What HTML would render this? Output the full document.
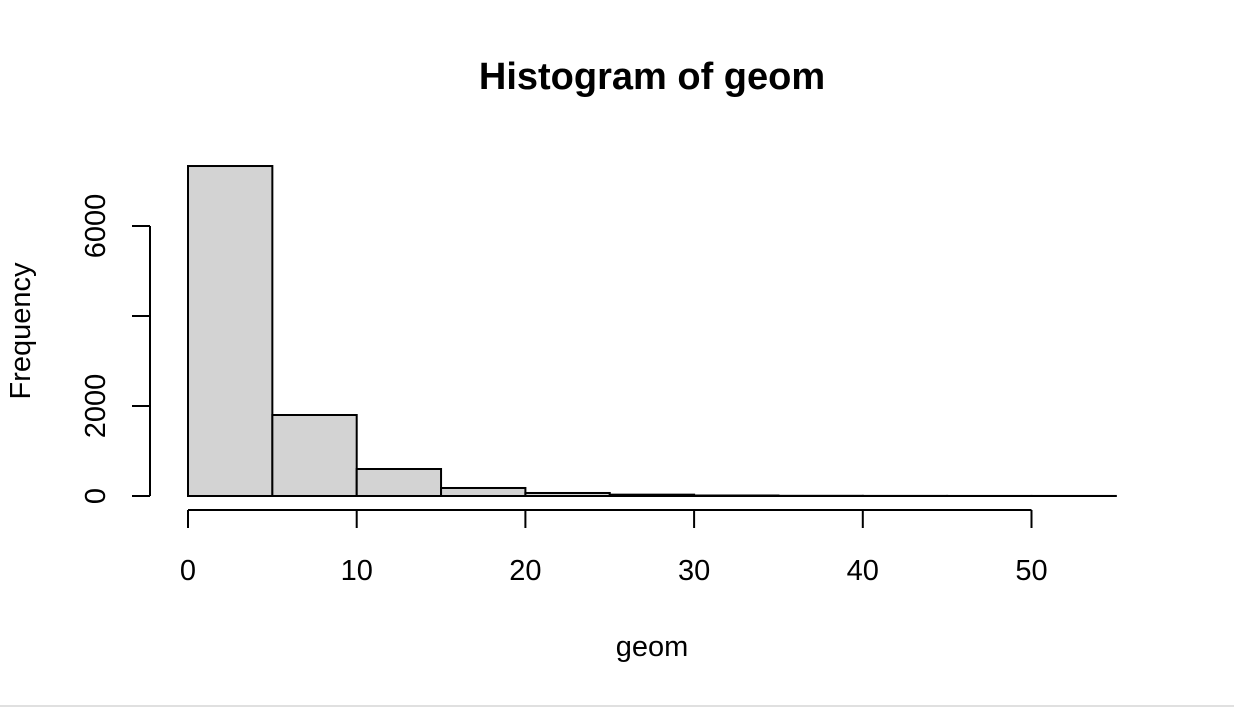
<!DOCTYPE html>
<html><head><meta charset="utf-8"><style>
body{margin:0;background:#fff;}
svg text{font-family:"Liberation Sans",Arial,sans-serif;}
</style></head><body>
<svg width="1234" height="710">
<rect x="0" y="0" width="1234" height="710" fill="#fff"/>
<line x1="0" y1="706" x2="1234" y2="706" stroke="#e0e0e0" stroke-width="2"/>
<text x="652" y="89" text-anchor="middle" font-size="38" font-weight="bold">Histogram of geom</text>
<text x="652" y="656" text-anchor="middle" font-size="29">geom</text>
<text transform="translate(30,331) rotate(-90)" text-anchor="middle" font-size="29">Frequency</text>
<g id="bars"></g><g id="xaxis"></g><g id="yaxis"></g>
</svg>
<script>
const binStarts=[0,5,10,15,20,25,30,35,40,45,50];
const binWidth=5;
const counts=[7333,1800,600,178,67,30,11,4,2,1,1];
const xTicks=[0,10,20,30,40,50];
const yTicks=[0,2000,4000,6000];
const yTickLabels=["0","2000","","6000"];
const NS="http://www.w3.org/2000/svg";
const xs=v=>188+v*16.87;
const ys=v=>496-v*0.045;
const bars=document.getElementById('bars');
binStarts.forEach((b,i)=>{
 const r=document.createElementNS(NS,'rect');
 r.setAttribute('x',xs(b));r.setAttribute('width',xs(b+binWidth)-xs(b));
 r.setAttribute('y',ys(counts[i]));r.setAttribute('height',ys(0)-ys(counts[i]));
 r.setAttribute('fill','#d3d3d3');r.setAttribute('stroke','#000');r.setAttribute('stroke-width','2');
 
 
 bars.appendChild(r);
});
const xa=document.getElementById('xaxis');
let l=document.createElementNS(NS,'line');
l.setAttribute('x1',xs(xTicks[0]));l.setAttribute('x2',xs(xTicks[xTicks.length-1]));l.setAttribute('y1',510);l.setAttribute('y2',510);l.setAttribute('stroke','#000');l.setAttribute('stroke-width','2');


xa.appendChild(l);
xTicks.forEach(t=>{
 const k=document.createElementNS(NS,'line');
 k.setAttribute('x1',xs(t));k.setAttribute('x2',xs(t));k.setAttribute('y1',510);k.setAttribute('y2',528);k.setAttribute('stroke','#000');k.setAttribute('stroke-width','2');
 
 
 xa.appendChild(k);
 const tx=document.createElementNS(NS,'text');
 tx.setAttribute('x',xs(t));tx.setAttribute('y',580);tx.setAttribute('text-anchor','middle');tx.setAttribute('font-size','29');
 tx.textContent=t;
 
 
 xa.appendChild(tx);
});
const ya=document.getElementById('yaxis');
l=document.createElementNS(NS,'line');
l.setAttribute('x1',150);l.setAttribute('x2',150);l.setAttribute('y1',ys(yTicks[0]));l.setAttribute('y2',ys(yTicks[yTicks.length-1]));l.setAttribute('stroke','#000');l.setAttribute('stroke-width','2');


ya.appendChild(l);
yTicks.forEach((t,i)=>{
 const k=document.createElementNS(NS,'line');
 k.setAttribute('x1',132);k.setAttribute('x2',150);k.setAttribute('y1',ys(t));k.setAttribute('y2',ys(t));k.setAttribute('stroke','#000');k.setAttribute('stroke-width','2');
 
 
 ya.appendChild(k);
 if(yTickLabels[i]){
  const tx=document.createElementNS(NS,'text');
  tx.setAttribute('transform','translate(105,'+ys(t)+') rotate(-90)');
  tx.setAttribute('text-anchor','middle');tx.setAttribute('font-size','29');
  tx.textContent=yTickLabels[i];
  
  
  ya.appendChild(tx);
 }
});
</script>
</body></html>
